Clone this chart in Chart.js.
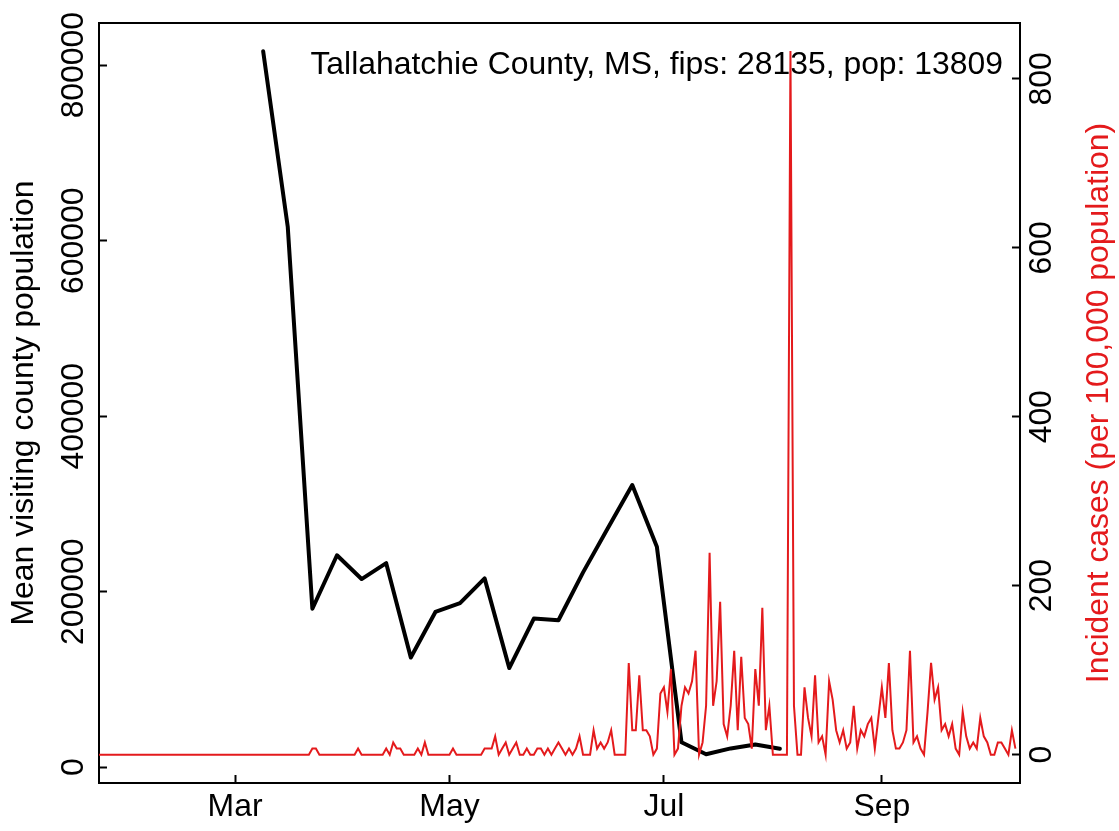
<!DOCTYPE html>
<html>
<head>
<meta charset="utf-8">
<script src="https://cdn.jsdelivr.net/npm/chart.js@4.4.1/dist/chart.umd.min.js"></script>
<style>
  html, body { margin: 0; padding: 0; background: #fff; }
  #chart { display: block; }
</style>
</head>
<body>
<canvas id="chart" width="1119" height="831"></canvas>
<script>
// Tallahatchie County, MS: weekly visiting population vs daily incident cases

const countyLabel = 'Tallahatchie County, MS, fips: 28135, pop: 13809';

// weekly series, left axis
const visitDates = [
  '2020-03-09', '2020-03-16', '2020-03-23', '2020-03-30', '2020-04-06', '2020-04-13',
  '2020-04-20', '2020-04-27', '2020-05-04', '2020-05-11', '2020-05-18', '2020-05-25',
  '2020-06-01', '2020-06-08', '2020-06-15', '2020-06-22', '2020-06-29', '2020-07-06',
  '2020-07-13', '2020-07-20', '2020-07-27', '2020-08-03'
];
const visitValues = [
  815800, 615500, 180600, 241500, 214400, 232500,
  125000, 176900, 187000, 215200, 113000, 169400,
  167500, 222000, 272000, 321500, 251300, 28500,
  14700, 21400, 25900, 21000
];

// daily incident cases per 100,000, one value per day starting at caseStartDate
const caseStartDate = '2020-01-22';
const caseRates = [
  0, 0, 0, 0, 0, 0, 0, 0, 0, 0,
  0, 0, 0, 0, 0, 0, 0, 0, 0, 0,
  0, 0, 0, 0, 0, 0, 0, 0, 0, 0,
  0, 0, 0, 0, 0, 0, 0, 0, 0, 0,
  0, 0, 0, 0, 0, 0, 0, 0, 0, 0,
  0, 0, 0, 0, 0, 0, 0, 0, 0, 0,
  0, 7.2, 7.2, 0, 0, 0, 0, 0, 0, 0,
  0, 0, 0, 0, 7.2, 0, 0, 0, 0, 0,
  0, 0, 7.2, 0, 14.5, 7.2, 7.2, 0, 0, 0,
  0, 7.2, 0, 14.5, 0, 0, 0, 0, 0, 0,
  0, 7.2, 0, 0, 0, 0, 0, 0, 0, 0,
  7.2, 7.2, 7.2, 21.7, 0, 7.2, 14.5, 0, 7.2, 14.5,
  0, 0, 7.2, 0, 0, 7.2, 7.2, 0, 7.2, 0,
  7.2, 14.5, 7.2, 0, 7.2, 0, 7.2, 21.7, 0, 0,
  0, 29.0, 7.2, 14.5, 7.2, 14.5, 29.0, 0, 0, 0,
  0, 108.6, 29.0, 29.0, 94.1, 29.0, 29.0, 21.7, 0, 7.2,
  72.4, 79.7, 50.7, 101.4, 0, 7.2, 57.9, 79.7, 72.4, 86.9,
  123.1, 0, 14.5, 57.9, 239.0, 57.9, 86.9, 181.0, 36.2, 21.7,
  57.9, 123.1, 29.0, 115.9, 43.5, 36.2, 7.2, 101.4, 57.9, 173.8,
  29.0, 57.9, 0, 0, 0, 0, 0, 832.8, 57.9, 0,
  0, 79.7, 43.5, 21.7, 94.1, 14.5, 21.7, 0, 86.9, 65.2,
  29.0, 14.5, 29.0, 7.2, 14.5, 57.9, 7.2, 29.0, 21.7, 36.2,
  43.5, 7.2, 43.5, 79.7, 43.5, 108.6, 29.0, 7.2, 7.2, 14.5,
  29.0, 123.1, 14.5, 21.7, 7.2, 0, 50.7, 108.6, 65.2, 79.7,
  29.0, 36.2, 21.7, 36.2, 7.2, 0, 50.7, 21.7, 7.2, 14.5,
  7.2, 43.5, 21.7, 14.5, 0, 0, 14.5, 14.5, 7.2, 0,
  29.0, 7.2
];

// ticks
const monthTickDates = ['2020-03-01', '2020-05-01', '2020-07-01', '2020-09-01'];
const monthTickLabels = ['Mar', 'May', 'Jul', 'Sep'];
const visitTicks = [0, 200000, 400000, 600000, 800000];
const caseTicks = [0, 200, 400, 600, 800];

const FONT = "'Liberation Sans', Arial, Helvetica, sans-serif";
const FS = 31.9;
const RED = '#e41a1c';

// day number counted from 2020-01-01
function dayNum(s) {
  const p = s.split('-').map(Number);
  return (Date.UTC(p[0], p[1] - 1, p[2]) - Date.UTC(2020, 0, 1)) / 86400000;
}

const visitPoints = visitDates.map((d, i) => ({ x: dayNum(d), y: visitValues[i] }));
const caseStart = dayNum(caseStartDate);
const casePoints = caseRates.map((v, i) => ({ x: caseStart + i, y: v }));
const monthTickDays = monthTickDates.map(dayNum);

Chart.defaults.font.family = FONT;
Chart.defaults.color = '#000';

const boxAndText = {
  id: 'boxAndText',
  beforeDatasetsDraw(chart) {
    const { ctx, chartArea } = chart;
    ctx.save();
    ctx.font = FS + 'px ' + FONT;
    ctx.fillStyle = '#000';
    ctx.textAlign = 'right';
    ctx.textBaseline = 'alphabetic';
    ctx.fillText(countyLabel, chartArea.right - 17, chartArea.top + 51);
    ctx.restore();
  },
  afterDraw(chart) {
    const { ctx, chartArea } = chart;
    ctx.save();
    // top edge of the frame
    ctx.strokeStyle = '#000';
    ctx.lineWidth = 2;
    ctx.beginPath();
    ctx.moveTo(chartArea.left - 1, chartArea.top);
    ctx.lineTo(chartArea.right + 1, chartArea.top);
    ctx.stroke();
    // right axis title, reading upwards
    ctx.translate(1099, (chartArea.top + chartArea.bottom) / 2);
    ctx.rotate(-Math.PI / 2);
    ctx.font = FS + 'px ' + FONT;
    ctx.fillStyle = RED;
    ctx.textAlign = 'center';
    ctx.textBaseline = 'middle';
    ctx.fillText('Incident cases (per 100,000 population)', 0, 0);
    ctx.restore();
  }
};

const axisGrid = {
  drawOnChartArea: false,
  drawTicks: true,
  tickLength: -8,
  tickColor: '#000',
  tickWidth: 2
};

new Chart(document.getElementById('chart'), {
  type: 'line',
  data: {
    datasets: [
      {
        label: 'Incident cases',
        data: casePoints,
        yAxisID: 'y2',
        borderColor: RED,
        borderWidth: 2,
        pointRadius: 0,
        tension: 0,
        order: 0
      },
      {
        label: 'Mean visiting county population',
        data: visitPoints,
        yAxisID: 'y',
        borderColor: '#000',
        borderWidth: 4,
        borderJoinStyle: 'round',
        borderCapStyle: 'round',
        pointRadius: 0,
        tension: 0,
        order: 1
      }
    ]
  },
  options: {
    responsive: false,
    animation: false,
    events: [],
    layout: { padding: { top: 14, left: 0, right: 0, bottom: 0 } },
    plugins: {
      legend: { display: false },
      tooltip: { enabled: false }
    },
    scales: {
      x: {
        type: 'linear',
        position: 'bottom',
        min: 21.3,
        max: 283.3,
        grid: axisGrid,
        border: { display: true, color: '#000', width: 2 },
        afterBuildTicks: (scale) => { scale.ticks = monthTickDays.map(v => ({ value: v })); },
        afterFit: (scale) => { scale.height = 48; },
        ticks: {
          autoSkip: false,
          maxRotation: 0,
          padding: 13.3,
          font: { size: FS },
          callback: (value, i) => monthTickLabels[i]
        }
      },
      y: {
        type: 'linear',
        position: 'left',
        min: -18000,
        max: 848000,
        grid: axisGrid,
        border: { display: true, color: '#000', width: 2 },
        afterBuildTicks: (scale) => { scale.ticks = visitTicks.map(v => ({ value: v })); },
        afterFit: (scale) => { scale.width = 99; },
        title: {
          display: true,
          text: 'Mean visiting county population',
          font: { size: FS },
          color: '#000',
          padding: { top: 5, bottom: 0 }
        },
        ticks: {
          autoSkip: false,
          minRotation: 90,
          maxRotation: 90,
          crossAlign: 'center',
          padding: -20.7,
          font: { size: FS },
          callback: (value) => String(value)
        }
      },
      y2: {
        type: 'linear',
        position: 'right',
        min: -33.5,
        max: 866,
        grid: axisGrid,
        border: { display: true, color: '#000', width: 2 },
        afterBuildTicks: (scale) => { scale.ticks = caseTicks.map(v => ({ value: v })); },
        afterFit: (scale) => { scale.width = 99; },
        ticks: {
          autoSkip: false,
          minRotation: 90,
          maxRotation: 90,
          crossAlign: 'center',
          padding: 3.9,
          font: { size: FS },
          callback: (value) => String(value)
        }
      }
    }
  },
  plugins: [boxAndText]
});
</script>
</body>
</html>
